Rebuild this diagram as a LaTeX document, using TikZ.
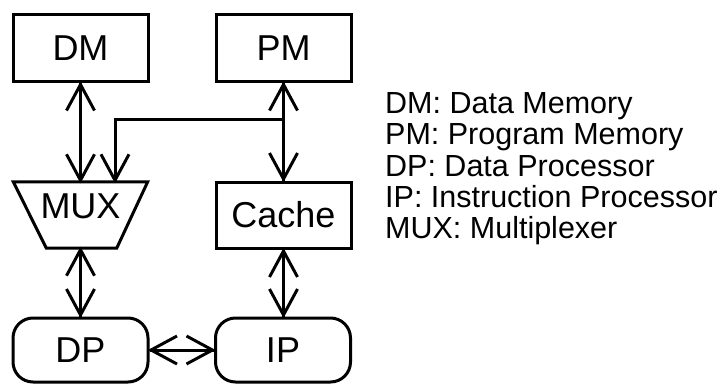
\documentclass[tikz,border=0pt]{standalone}
\usepackage{fontspec}
\setmainfont{Liberation Sans}
\usetikzlibrary{calc}
\begin{document}
\begin{tikzpicture}[x=1pt,y=-1pt,
  every node/.style={inner sep=0pt},
  blk/.style={draw,line width=3pt,font=\fontsize{36}{40}\selectfont},
  unit/.style={blk,rectangle,minimum width=135pt,minimum height=67pt},
  proc/.style={blk,rectangle,rounded corners=20pt,minimum width=135pt,minimum height=64pt},
  legend/.style={anchor=base west,font=\fontsize{30.5}{34}\selectfont},
  wire/.style={line width=3pt},
  % open V head as a filled outline, tip at the origin, pointing up
  vhead/.pic={\fill (0,-1.6) -- (15.3,26.8) -- (12.7,28.2) -- (0,4.7)
      -- (-12.7,28.2) -- (-15.3,26.8) -- cycle;}]
\useasboundingbox (0,0) rectangle (720,383);

% memories, cache and processors
\node[unit] (dm) at (80.5,48) {DM};
\node[unit] (pm) at (283.5,48) {PM};
\node[unit,minimum height=66pt] (cache) at (283.5,215) {Cache};
\node[proc] (dp) at (80.5,350) {DP};
\node[proc] (ip) at (283,350) {IP};

% multiplexer: wide top, narrow bottom
\node[minimum width=134pt,minimum height=66pt] (mux) at (80.5,215) {};
\draw[line width=3pt,line join=miter]
  (mux.north west) -- (mux.north east) -- ([xshift=-31pt]mux.south east)
  -- ([xshift=33pt]mux.south west) -- cycle;
\node[font=\fontsize{36}{40}\selectfont] (muxtext) at (80.5,206) {MUX};

% connections
\coordinate (dmin) at (dm.south |- mux.north);
\coordinate (pmin) at ([xshift=34.5pt]mux.north);
\coordinate (ipin) at (cache.south |- ip.north);
\coordinate (tap) at ($(pm.south)!0.37!(cache.north)$);

\draw[wire] (dm.south) -- (dmin);
\draw[wire] (pm.south) -- (cache.north);
\draw[wire] (tap) -| (pmin);
\draw[wire] (mux.south) -- (dp.north);
\draw[wire] (cache.south) -- (ipin);
\draw[wire] (dp.east) -- (ip.west);

% arrow heads
\pic at (dm.south) {vhead};
\pic[rotate=180] at (dmin) {vhead};
\pic at (pm.south) {vhead};
\pic[rotate=180] at (cache.north) {vhead};
\pic[rotate=180] at (pmin) {vhead};
\pic at (mux.south) {vhead};
\pic[rotate=180] at (dp.north) {vhead};
\pic at (cache.south) {vhead};
\pic[rotate=180] at (ipin) {vhead};
\pic[rotate=90] at (dp.east) {vhead};
\pic[rotate=-90] at (ip.west) {vhead};

% legend
\node[legend] (l1) at (385,113) {DM: Data Memory};
\node[legend] (l2) at (385,144) {PM: Program Memory};
\node[legend] (l3) at (385,176) {DP: Data Processor};
\node[legend] (l4) at (385,207) {IP: Instruction Processor};
\node[legend] (l5) at (385,238) {MUX: Multiplexer};
\end{tikzpicture}
\end{document}
